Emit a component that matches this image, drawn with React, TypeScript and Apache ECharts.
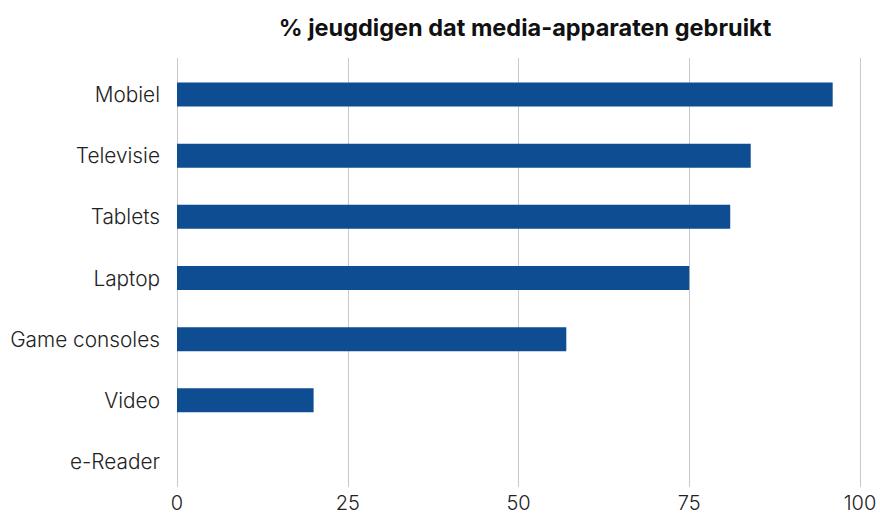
import React, { useEffect, useRef } from "react";
import * as echarts from "echarts";

const categories = ["Mobiel", "Televisie", "Tablets", "Laptop", "Game consoles", "Video", "e-Reader"];
const values = [96, 84, 81, 75, 57, 20, 0];
const xTicks = [0, 25, 50, 75, 100];

export default function App() {
  const ref = useRef<HTMLDivElement>(null);
  useEffect(() => {
    const chart = echarts.init(ref.current!, null, { renderer: "svg" });
    const font = "Inter, 'Noto Sans', sans-serif";
    chart.setOption({
      animation: false,
      backgroundColor: "#ffffff",
      title: {
        text: "% jeugdigen dat media-apparaten gebruikt",
        left: 520,
        textAlign: "center",
        top: 10,
        textStyle: { fontFamily: font, fontSize: 23.5, fontWeight: "bold", color: "#111" },
      },
      grid: [
        { left: 177, right: 20, top: 58, bottom: 28 },
        { left: 177, right: 20, top: 64, bottom: 23 },
      ],
      xAxis: [
        {
          gridIndex: 0,
          type: "value",
          min: xTicks[0],
          max: xTicks[xTicks.length - 1],
          interval: 25,
          axisLine: { show: false },
          axisTick: { show: false },
          splitLine: { show: true, lineStyle: { color: "#c8c8c8", width: 1 } },
          axisLabel: { fontFamily: font, fontSize: 20, fontWeight: 300, color: "#222", margin: 8, lineHeight: 16 },
        },
        {
          gridIndex: 1,
          type: "value",
          min: 0,
          max: 100,
          interval: 25,
          show: false,
        },
      ],
      yAxis: [
        {
          gridIndex: 0,
          type: "category",
          data: categories,
          inverse: true,
          show: false,
        },
        {
          gridIndex: 1,
          type: "category",
          data: categories,
          inverse: true,
          axisLine: { show: false },
          axisTick: { show: false },
          axisLabel: { fontFamily: font, fontSize: 20.8, fontWeight: 300, color: "#222", margin: 17 },
        },
      ],
      series: [
        {
          type: "bar",
          xAxisIndex: 1,
          yAxisIndex: 1,
          data: values,
          barWidth: 24,
          itemStyle: { color: "#0e4d91" },
        },
      ],
    });
    return () => chart.dispose();
  }, []);
  return <div ref={ref} style={{ width: 880, height: 515, position: "absolute", left: 0, top: 0 }} />;
}
